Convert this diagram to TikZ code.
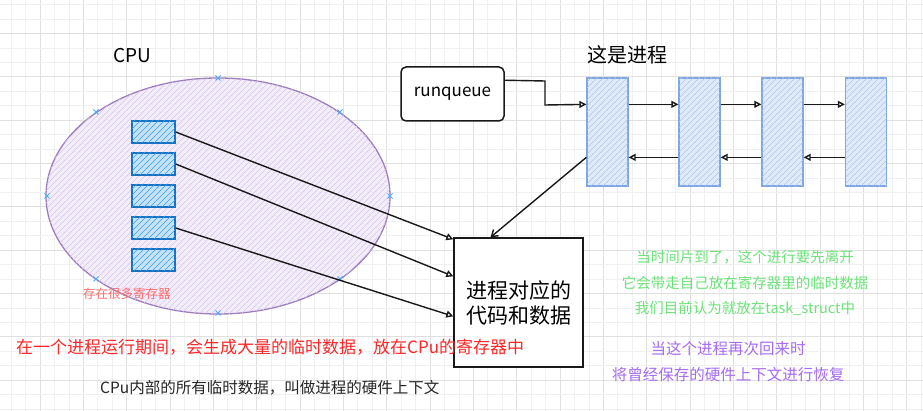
\documentclass[tikz,border=0pt]{standalone}
\usepackage{fontspec}
\setmainfont{Noto Sans CJK SC}
\usetikzlibrary{patterns.meta,arrows.meta,calc,shapes.geometric}
\definecolor{gminor}{HTML}{F0F0F0}
\definecolor{gmajor}{HTML}{E0E0E0}
\definecolor{ellst}{HTML}{9C7CBC}
\definecolor{ellh}{HTML}{D6C4EA}
\definecolor{regst}{HTML}{1971C2}
\definecolor{regh}{HTML}{3A9EEA}
\definecolor{procst}{HTML}{7EA6E0}
\definecolor{proch}{HTML}{AFC8EE}
\definecolor{gtxt}{HTML}{6EE27A}
\definecolor{ptxt}{HTML}{A66CF2}
\definecolor{rtxt}{HTML}{FA2828}
\definecolor{rsmall}{HTML}{FF6B6B}
\definecolor{handle}{HTML}{4DABF7}
\tikzdeclarepattern{
  name=hatch,
  type=uncolored,
  bounding box={(0pt,0pt) and (6pt,6pt)},
  tile size={(6pt,6pt)},
  code={\draw[line width=0.6pt] (-1pt,-1pt) -- (7pt,7pt);}
}
\tikzset{
  fs/.style={font=\fontsize{#1}{#1}\selectfont},
  regbox/.style={draw=regst, line width=1.4pt, fill=regh!30, postaction={pattern=hatch, pattern color=regh}, minimum width=43pt, minimum height=22pt, inner sep=0pt},
  procbox/.style={draw=procst, line width=1.3pt, fill=proch!40, postaction={pattern=hatch, pattern color=proch}, minimum width=41pt, minimum height=108pt, inner sep=0pt},
  arr/.style={draw=black!90, line width=1.4pt, -{Triangle[open,length=7pt,width=7pt]}},
  barb/.style={draw=black!90, line width=1.4pt, -{Straight Barb[length=6pt,width=8pt]}},
}
\begin{document}
\begin{tikzpicture}[x=1pt,y=-1pt]
\useasboundingbox (0,0) rectangle (923,411);
\fill[white] (0,0) rectangle (923,411);
% grid
\foreach \k in {0,...,63}{
  \pgfmathsetmacro{\xx}{11.11+14.444*\k}
  \pgfmathtruncatemacro{\mm}{mod(\k,3)}
  \ifnum\mm=2 \draw[gmajor, line width=0.8pt] (\xx,0) -- (\xx,411);
  \else \draw[gminor, line width=0.6pt] (\xx,0) -- (\xx,411); \fi
}
\foreach \k in {0,...,28}{
  \pgfmathsetmacro{\yy}{4.5+14.444*\k}
  \pgfmathtruncatemacro{\mm}{mod(\k,3)}
  \ifnum\mm=2 \draw[gmajor, line width=0.8pt] (0,\yy) -- (923,\yy);
  \else \draw[gminor, line width=0.6pt] (0,\yy) -- (923,\yy); \fi
}
% CPU ellipse
\node[ellipse, draw=ellst, line width=1.3pt, fill=ellh!30, postaction={pattern=hatch, pattern color=ellh}, minimum width=344pt, minimum height=236pt, inner sep=0pt] (cpu) at (218,196) {};
\foreach \p in {(218,78),(47,196),(390,196),(218,313),(96,112),(340,112),(96,279),(340,279)}{
  \draw[handle, line width=0.8pt] \p ++(-2.5,-2.5) -- ++(5,5) ++(-5,0) -- ++(5,-5);
}
\node[fs=19, anchor=west] (cputxt) at (110,56) {CPU};
% registers
\node[regbox] (r1) at (153.5,132) {};
\node[regbox] (r2) at (153.5,164) {};
\node[regbox] (r3) at (153.5,196) {};
\node[regbox] (r4) at (153.5,228) {};
\node[regbox] (r5) at (153.5,260) {};
\node[fs=12.5, text=rsmall, anchor=west, inner sep=0pt] (regtxt) at (83,294) {存在很多寄存器};
% code/data box
\node[draw=black!90, line width=1.4pt, fill=white, minimum width=129pt, minimum height=129pt, inner sep=0pt, align=center, fs=21] (box) at (518.5,302.5) {进程对应的\\[4pt]代码和数据};
\coordinate (a1) at ($(box.north west)+(0,2)$);
\coordinate (a2) at ($(box.north west)+(0,39)$);
\coordinate (a3) at ($(box.north west)+(0,79)$);
\draw[arr] (r1.east) -- (a1);
\draw[arr] (r2.east) -- (a2);
\draw[arr] (r4.east) -- (a3);
% runqueue
\node[draw=black!90, line width=1.5pt, rounded corners=5pt, minimum width=103pt, minimum height=54pt, inner sep=0pt, fs=17, fill=white] (rq) at (452.5,94) {runqueue};
\node[fs=20, anchor=west, inner sep=0pt] (ttl) at (587,55) {这是进程};
% processes
\node[procbox] (p1) at (607.5,132) {};
\node[procbox] (p2) at (699.5,132) {};
\node[procbox] (p3) at (782.5,132) {};
\node[procbox] (p4) at (866,132) {};
\coordinate (rqo) at ($(rq.north east)+(0,14)$);
\coordinate (p1in) at ($(p1.north west)+(0,27)$);
\draw[arr] (rqo) -- (545,81) -- (545,105) -- (p1in);
\draw[arr] ($(p1.north east)+(0,27)$) -- ($(p2.north west)+(0,27)$);
\draw[arr] ($(p2.north east)+(0,27)$) -- ($(p3.north west)+(0,27)$);
\draw[arr] ($(p3.north east)+(0,27)$) -- ($(p4.north west)+(0,27)$);
\draw[arr] ($(p2.north west)+(0,80)$) -- ($(p1.north east)+(0,80)$);
\draw[arr] ($(p3.north west)+(0,80)$) -- ($(p2.north east)+(0,80)$);
\draw[arr] ($(p4.north west)+(0,80)$) -- ($(p3.north east)+(0,80)$);
\draw[barb] ($(p1.north west)+(0,80)$) -- ($(box.north)+(-28,0)$);
% texts
\node[fs=14.5, text=gtxt] (g1) at (745,257) {当时间片到了，这个进行要先离开};
\node[fs=14.5, text=gtxt] (g2) at (745,283) {它会带走自己放在寄存器里的临时数据};
\node[fs=14.5, text=gtxt] (g3) at (745,308) {我们目前认为就放在task\_struct中};
\node[fs=15.5, text=ptxt] (v1) at (728,349) {当这个进程再次回来时};
\node[fs=15.5, text=ptxt] (v2) at (728,375) {将曾经保存的硬件上下文进行恢复};
\node[fs=17, text=rtxt, anchor=west, inner sep=0pt] (red) at (16,347) {在一个进程运行期间，会生成大量的临时数据，放在CPu的寄存器中};
\node[fs=15.5, text=black!85, anchor=west, inner sep=0pt] (blk) at (100,388) {CPu内部的所有临时数据，叫做进程的硬件上下文};
\end{tikzpicture}
\end{document}
